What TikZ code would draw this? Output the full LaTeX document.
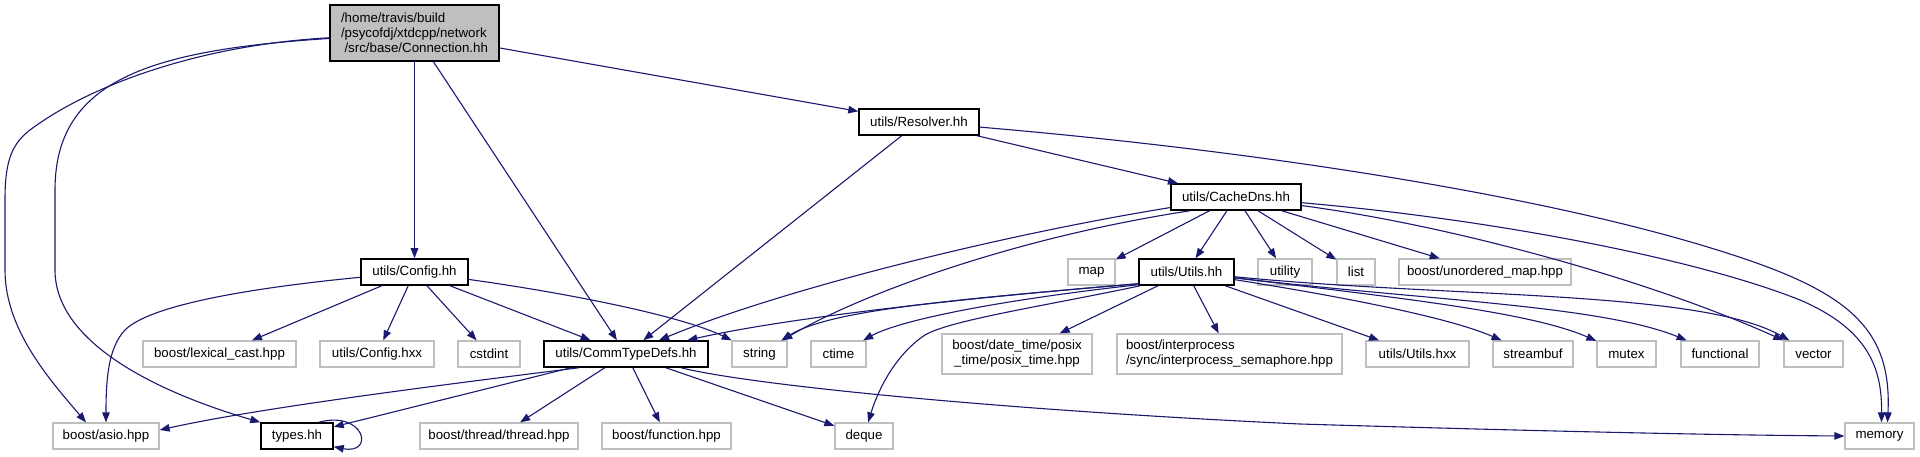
\documentclass[tikz,border=0pt]{standalone}
\usepackage{fontspec}
\setmainfont{Liberation Sans}
\usetikzlibrary{arrows.meta}
\definecolor{edgecol}{HTML}{191970}
\definecolor{gborder}{HTML}{BFBFBF}
\definecolor{cfill}{HTML}{BFBFBF}
\begin{document}
\begin{tikzpicture}[x=1pt,y=-1pt,
 base/.style={rectangle, inner sep=0pt, font=\fontsize{13.3}{15}\selectfont, minimum height=26pt, fill=white},
 bbox/.style={base, draw=black, line width=1.5pt},
 gbox/.style={base, draw=gborder, line width=1.3pt},
 cbox/.style={bbox, fill=cfill},
 edge/.style={draw=edgecol, line width=1.1pt, -{Triangle[length=10pt,width=7.5pt]}},
]
\useasboundingbox[fill=white] (0,0) rectangle (1920,457);

\node[cbox,minimum width=169pt,minimum height=56pt,align=left] (conn) at (414.5,33) {/home/travis/build\\/psycofdj/xtdcpp/network\\\hspace*{3.5pt}/src/base/Connection.hh};
\node[bbox,minimum width=120pt] (res) at (919,122) {utils/Resolver.hh};
\node[bbox,minimum width=130pt] (cache) at (1236,197) {utils/CacheDns.hh};
\node[bbox,minimum width=107pt] (config) at (414.5,272) {utils/Config.hh};
\node[gbox,minimum width=47pt] (map) at (1091.5,272) {map};
\node[bbox,minimum width=95pt] (utils) at (1186.5,272) {utils/Utils.hh};
\node[gbox,minimum width=54pt] (utility) at (1285,272) {utility};
\node[gbox,minimum width=38pt] (list) at (1356,272) {list};
\node[gbox,minimum width=172pt] (umap) at (1485,272) {boost/unordered\_map.hpp};
\node[gbox,minimum width=153pt] (lex) at (219.5,354) {boost/lexical\_cast.hpp};
\node[gbox,minimum width=114pt] (chxx) at (377,354) {utils/Config.hxx};
\node[gbox,minimum width=62pt] (cstdint) at (489,354) {cstdint};
\node[bbox,minimum width=164pt] (comm) at (626,354) {utils/CommTypeDefs.hh};
\node[gbox,minimum width=55pt] (string) at (759.5,354) {string};
\node[gbox,minimum width=55pt] (ctime) at (838.5,354) {ctime};
\node[gbox,minimum width=150pt,minimum height=40pt,align=center] (ptime) at (1017,354) {boost/date\_time/posix\\\_time/posix\_time.hpp};
\node[gbox,minimum width=225pt,minimum height=40pt,align=left] (ipc) at (1229.5,354) {boost/interprocess\\/sync/interprocess\_semaphore.hpp};
\node[gbox,minimum width=103pt] (uhxx) at (1417.5,354) {utils/Utils.hxx};
\node[gbox,minimum width=80pt] (sbuf) at (1533,354) {streambuf};
\node[gbox,minimum width=59pt] (mutex) at (1626.5,354) {mutex};
\node[gbox,minimum width=78pt] (func) at (1720,354) {functional};
\node[gbox,minimum width=59pt] (vector) at (1813.5,354) {vector};
\node[gbox,minimum width=106pt] (asio) at (106,436) {boost/asio.hpp};
\node[bbox,minimum width=72pt] (types) at (297,436) {types.hh};
\node[gbox,minimum width=158pt] (thread) at (499,436) {boost/thread/thread.hpp};
\node[gbox,minimum width=129pt] (bfunc) at (666.5,436) {boost/function.hpp};
\node[gbox,minimum width=58pt] (deque) at (864,436) {deque};
\node[gbox,minimum width=69pt] (memory) at (1879.5,436) {memory};

% straight edges
\draw[edge] (conn) -- (config);
\draw[edge] (conn) -- (comm);
\draw[edge] (conn) -- (res);
\draw[edge] (res) -- (comm);
\draw[edge] (res) -- (cache);
\foreach \t in {map,utils,utility,list,umap} \draw[edge] (cache) -- (\t);
\foreach \t in {lex,chxx,cstdint,comm} \draw[edge] (config) -- (\t);
\foreach \t in {ptime,ipc,uhxx} \draw[edge] (utils) -- (\t);
\foreach \t in {thread,bfunc,deque,types} \draw[edge] (comm) -- (\t);

% curved edges
\draw[edge] (conn) .. controls (200,45) and (90,85) .. (30,130) .. controls (10,145) and (5,165) .. (5,200) -- (5,270) .. controls (5,330) and (50,380) .. ([xshift=-20pt]asio.north);
\draw[edge] (conn) .. controls (150,50) and (55,80) .. (55,190) -- (55,270) .. controls (55,340) and (150,390) .. (types.north west);
\draw[edge] (config) .. controls (250,288) and (150,305) .. (125,330) .. controls (108,348) and (106,380) .. (asio.north);
\draw[edge] (config) .. controls (560,292) and (680,315) .. (string);
\draw[edge] (res) .. controls (1250,150) and (1550,195) .. (1733,255) .. controls (1850,293) and (1892,330) .. ([xshift=8pt]memory.north);
\draw[edge] (cache) .. controls (1500,220) and (1700,260) .. (1800,300) .. controls (1870,330) and (1882,370) .. ([xshift=2pt]memory.north);
\draw[edge] (cache) .. controls (1450,225) and (1650,280) .. (vector);
\draw[edge] ([xshift=-46pt]cache.south) .. controls (1000,240) and (850,300) .. (string);
\draw[edge] (cache) .. controls (1000,235) and (780,290) .. (comm);
\draw[edge] ([yshift=2pt]utils.south west) .. controls (1000,295) and (800,315) .. (comm);
\draw[edge] ([yshift=2pt]utils.south west) .. controls (950,300) and (830,310) .. (string);
\draw[edge] ([yshift=1pt]utils.south west) .. controls (1000,300) and (900,320) .. (ctime);
\draw[edge] ([xshift=2pt]utils.south west) .. controls (1050,305) and (950,320) .. (925,335) .. controls (895,355) and (878,390) .. (deque);
\draw[edge] (utils) .. controls (1350,298) and (1450,318) .. (sbuf);
\draw[edge] (utils) .. controls (1400,298) and (1530,312) .. (mutex);
\draw[edge] (utils) .. controls (1420,300) and (1600,305) .. (func);
\draw[edge] (utils) .. controls (1450,298) and (1700,290) .. (vector);
\draw[edge] ([xshift=-47pt]comm.south) .. controls (400,390) and (250,410) .. ([yshift=6pt]asio.east);
\draw[edge] (comm) .. controls (750,385) and (1000,410) .. (1300,424) .. controls (1500,430) and (1700,435) .. (memory.west);
\draw[edge] ([xshift=-15pt]types.north east) .. controls (365,410) and (375,455) .. ([yshift=3pt]types.south east);
\end{tikzpicture}
\end{document}
